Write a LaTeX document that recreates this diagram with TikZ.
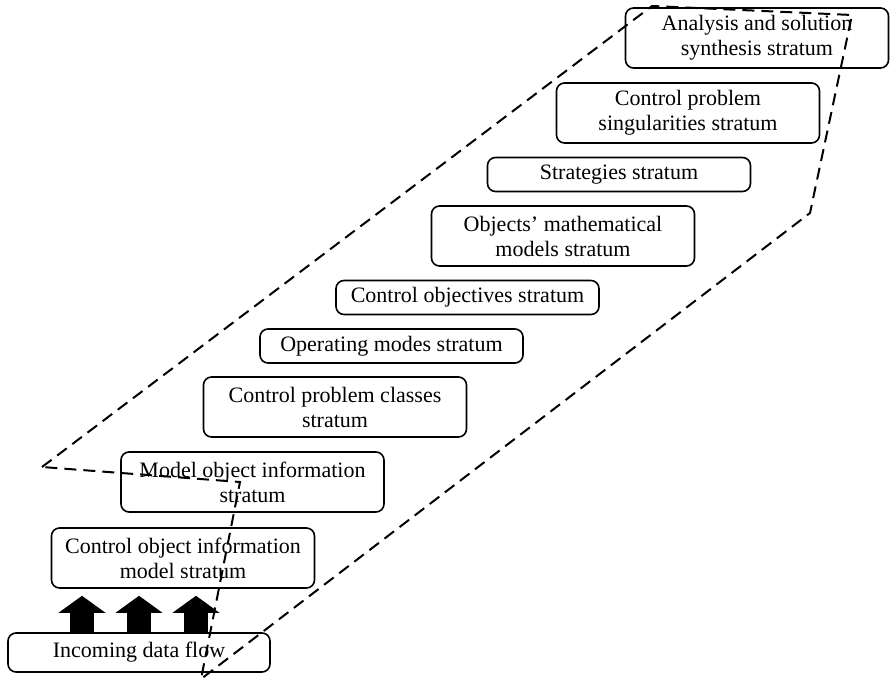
\documentclass[tikz,border=0pt]{standalone}
\usepackage{fontspec}
\setmainfont{Liberation Serif}
\usepackage{tikz}
\usetikzlibrary{arrows.meta,positioning}
\tikzset{%
  % Specifications for style of nodes:
        stratum/.style = {rectangle, rounded corners=8pt, draw=black,
                          line width=1.6pt, inner sep=0pt,
                          minimum width=263pt, minimum height=60pt,
                          text centered, align=center,
                          font=\fontsize{22}{25}\selectfont},
    thinstratum/.style = {stratum, minimum height=34pt},
       fatarrow/.style = {line width=24pt,
                          -{Triangle[width=47pt, length=17pt, line width=0pt]}},
       boundary/.style = {line width=2pt, dash pattern=on 12pt off 7pt},
}

\begin{document}
\begin{tikzpicture}[x=1pt, y=-1pt]
  \useasboundingbox (0,0) rectangle (891,679);
  % Specification of nodes (position, etc.)
  \node (flow)       [stratum, minimum width=262pt, minimum height=39pt] at (139,652.5) {Incoming data flow};
  \node (ctrlinfo)   [stratum]     at (183,558)   {Control object information\\model stratum};
  \node (modelinfo)  [stratum]     at (252.5,482) {Model object information\\stratum};
  \node (classes)    [stratum]     at (335,407)   {Control problem classes\\stratum};
  \node (modes)      [thinstratum] at (391.5,346) {Operating modes stratum};
  \node (objectives) [thinstratum] at (467.5,297.5) {Control objectives stratum};
  \node (mathmodels) [stratum]     at (563,236)   {Objects' mathematical\\models stratum};
  \node (strategies) [thinstratum] at (619,174.5) {Strategies stratum};
  \node (singular)   [stratum]     at (688,113)   {Control problem\\singularities stratum};
  \node (synthesis)  [stratum]     at (757,38)    {Analysis and solution\\synthesis stratum};
  % Data flow entering the lowest stratum
  \foreach \dx in {-57,0,57}
    \draw[fatarrow] ([xshift=\dx pt]flow.north) -- ([xshift=\dx pt, yshift=-7pt]flow.north |- ctrlinfo.south);
  % Dashed outline round the strata
  \coordinate (p1) at (42,467);
  \coordinate (p2) at (652,6);
  \coordinate (p3) at (852,15);
  \coordinate (p4) at (810,213);
  \coordinate (p5) at (201,679);
  \coordinate (p6) at (240,482);
  \draw[boundary] (p1) -- (p2) -- (p3) -- (p4) -- (p5) -- (p6) -- cycle;
\end{tikzpicture}
\end{document}
